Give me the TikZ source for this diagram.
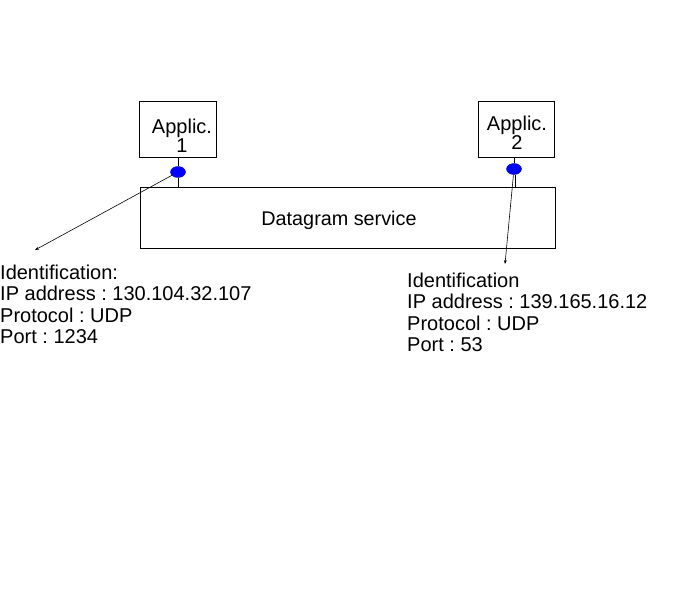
\documentclass[tikz,border=0pt]{standalone}
\usepackage{fontspec}
\setmainfont{Liberation Sans}
\usetikzlibrary{shapes.geometric,arrows.meta}
\begin{document}
\frenchspacing
\begin{tikzpicture}[x=1pt,y=-1pt,
  box/.style={draw,line width=0.8pt,inner sep=0pt},
  sock/.style={ellipse,fill=blue,draw=blue!70!black,minimum width=15pt,minimum height=11pt,inner sep=0pt},
  lbl/.style={align=left,anchor=north west,inner sep=0pt,font=\fontsize{20}{21.2}\selectfont},
  arr/.style={-{Stealth[length=4pt,width=3pt]},line width=0.6pt}]
\useasboundingbox (0,0) rectangle (675,592);
\node[box,minimum width=77pt,minimum height=56pt] (a1) at (177.5,129) {};
\node[font=\fontsize{20}{19}\selectfont,align=center] (t1) at (182,136) {Applic.\\1};
\node[box,minimum width=76pt,minimum height=56pt] (a2) at (516,129) {};
\node[font=\fontsize{20}{19}\selectfont,align=center] (t2) at (517,133) {Applic.\\2};
\node[box,minimum width=415pt,minimum height=61pt] (ds) at (347.5,217.5) {};
\node[font=\fontsize{19.8}{20}\selectfont] (dst) at (339,220) {Datagram service};
\node[sock] (s1) at (178,172) {};
\node[sock] (s2) at (514,169) {};
\coordinate (d1) at (178,187);
\coordinate (d2) at (515,187);
\draw[line width=0.6pt] (a1.south -| s1) -- (s1);
\draw[line width=0.6pt] (s1) -- (d1);
\draw[line width=0.6pt] (a2.south -| s2) -- (s2);
\draw[line width=0.6pt] (s2.south -| d2) -- (d2);
\node[lbl] (i1) at (0,265) {Identification:\\IP address : 130.104.32.107\\Protocol : UDP\\Port : 1234};
\node[lbl] (i2) at (407,273) {Identification\\IP address : 139.165.16.12\\Protocol : UDP\\Port : 53};
\coordinate (e1) at (35,250);
\coordinate (e2) at (505,264);
\draw[arr] (s1) -- (e1);
\draw[arr] (s2) -- (e2);
\end{tikzpicture}
\end{document}
